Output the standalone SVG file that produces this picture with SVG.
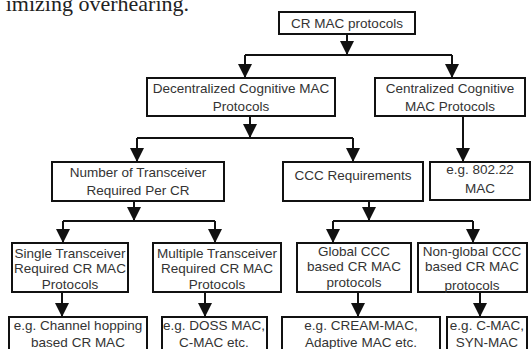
<svg xmlns="http://www.w3.org/2000/svg" width="531" height="349" viewBox="0 0 531 349">
<style>
.box{fill:#fff;stroke:#111;stroke-width:2}
.t{font-family:"Liberation Sans",Arial,sans-serif;font-size:13.5px;fill:#333;text-anchor:middle}
.c{fill:none;stroke:#111;stroke-width:2}
.bg{font-family:"Liberation Serif","Times New Roman",serif;font-size:22px;fill:#222}
</style>
<defs>
<marker id="ah" viewBox="0 0 14 14" refX="14" refY="7" markerWidth="14" markerHeight="14" markerUnits="userSpaceOnUse" orient="auto">
<path d="M0,0 L14,7 L0,14 z" fill="#111"/>
</marker>
</defs>
<rect width="531" height="349" fill="#fff"/>
<text class="bg" x="189" y="11" text-anchor="end">imizing overhearing.</text>
<g id="connectors">
<path class="c" d="M347,34 V55" marker-end="url(#ah)"/>
<path class="c" d="M245,55 H452"/>
<path class="c" d="M245,55 V78" marker-end="url(#ah)"/>
<path class="c" d="M452,55 V78" marker-end="url(#ah)"/>
<path class="c" d="M250,116 V138" marker-end="url(#ah)"/>
<path class="c" d="M137,138 H353"/>
<path class="c" d="M137,138 V162" marker-end="url(#ah)"/>
<path class="c" d="M353,138 V162" marker-end="url(#ah)"/>
<path class="c" d="M463,116 V162" marker-end="url(#ah)"/>
<path class="c" d="M134,201 V221" marker-end="url(#ah)"/>
<path class="c" d="M63,221 H215"/>
<path class="c" d="M63,221 V243" marker-end="url(#ah)"/>
<path class="c" d="M215,221 V243" marker-end="url(#ah)"/>
<path class="c" d="M369,201 V221" marker-end="url(#ah)"/>
<path class="c" d="M333,221 H473"/>
<path class="c" d="M333,221 V243" marker-end="url(#ah)"/>
<path class="c" d="M473,221 V243" marker-end="url(#ah)"/>
<path class="c" d="M62,292 V317" marker-end="url(#ah)"/>
<path class="c" d="M205,292 V317" marker-end="url(#ah)"/>
<path class="c" d="M358,292 V317" marker-end="url(#ah)"/>
<path class="c" d="M480,292 V317" marker-end="url(#ah)"/>
</g>
<g id="n-cr"><rect class="box" x="279" y="12" width="136" height="22"/><text class="t" x="347" y="28">CR MAC protocols</text></g>
<g id="n-decentral"><rect class="box" x="147" y="78" width="188" height="38"/><text class="t" x="241" y="93">Decentralized Cognitive MAC</text><text class="t" x="241" y="111">Protocols</text></g>
<g id="n-central"><rect class="box" x="375" y="78" width="150" height="38"/><text class="t" x="450" y="93">Centralized Cognitive</text><text class="t" x="450" y="111">MAC Protocols</text></g>
<g id="n-number"><rect class="box" x="52" y="162" width="172" height="39"/><text class="t" x="138" y="177">Number of Transceiver</text><text class="t" x="138" y="195">Required Per CR</text></g>
<g id="n-ccc"><rect class="box" x="283" y="162" width="140" height="39"/><text class="t" x="353" y="180">CCC Requirements</text></g>
<g id="n-80222"><rect class="box" x="430" y="162" width="100" height="38"/><text class="t" x="480" y="174">e.g. 802.22</text><text class="t" x="480" y="193">MAC</text></g>
<g id="n-single"><rect class="box" x="12" y="243" width="116" height="49"/><text class="t" x="70" y="258">Single Transceiver</text><text class="t" x="70" y="273">Required CR MAC</text><text class="t" x="70" y="289">Protocols</text></g>
<g id="n-multiple"><rect class="box" x="153" y="243" width="128" height="49"/><text class="t" x="217" y="258">Multiple Transceiver</text><text class="t" x="217" y="273">Required CR MAC</text><text class="t" x="217" y="289">Protocols</text></g>
<g id="n-global"><rect class="box" x="297" y="243" width="114" height="49"/><text class="t" x="354" y="256">Global CCC</text><text class="t" x="354" y="271">based CR MAC</text><text class="t" x="354" y="287">protocols</text></g>
<g id="n-nonglobal"><rect class="box" x="418" y="243" width="109" height="49"/><text class="t" x="472" y="256">Non-global CCC</text><text class="t" x="472" y="271">based CR MAC</text><text class="t" x="472" y="290">protocols</text></g>
<g id="n-channel"><rect class="box" x="9" y="317" width="138" height="40"/><text class="t" x="78" y="330">e.g. Channel hopping</text><text class="t" x="78" y="347">based CR MAC</text></g>
<g id="n-doss"><rect class="box" x="162" y="317" width="105" height="40"/><text class="t" x="214" y="330">e.g. DOSS MAC,</text><text class="t" x="214" y="347">C-MAC etc.</text></g>
<g id="n-cream"><rect class="box" x="282" y="317" width="158" height="40"/><text class="t" x="361" y="330">e.g. CREAM-MAC,</text><text class="t" x="361" y="347">Adaptive MAC etc.</text></g>
<g id="n-cmac"><rect class="box" x="447" y="317" width="80" height="40"/><text class="t" x="487" y="330">e.g. C-MAC,</text><text class="t" x="487" y="347">SYN-MAC</text></g>
</svg>
